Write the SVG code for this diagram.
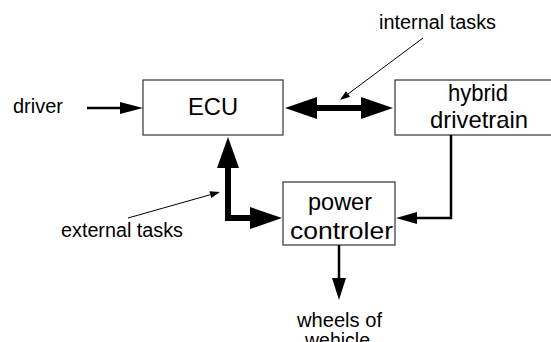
<svg xmlns="http://www.w3.org/2000/svg" width="551" height="342" viewBox="0 0 551 342">
<style>
.box{fill:#fff;stroke:#333;stroke-width:1.2}
.t{font-family:"Liberation Sans",Arial,sans-serif;fill:#000}
.lbl{font-size:19.5px}
.bt{font-size:24px}
.thin{fill:none;stroke:#000;stroke-width:2.5}
.thick{fill:none;stroke:#000;stroke-width:6;stroke-linejoin:miter}
.ptr{fill:none;stroke:#000;stroke-width:1}
.head{fill:#000}
</style>
<rect width="551" height="342" fill="#fff"/>
<g id="ecu">
<rect class="box" x="143" y="80" width="140" height="55"/>
<text class="t bt" x="188" y="115" textLength="50" lengthAdjust="spacingAndGlyphs">ECU</text>
</g>
<g id="hybrid">
<rect class="box" x="395" y="80" width="166" height="55"/>
<text class="t bt" x="448" y="101" textLength="60" lengthAdjust="spacingAndGlyphs">hybrid</text>
<text class="t bt" x="430" y="128" textLength="98" lengthAdjust="spacingAndGlyphs">drivetrain</text>
</g>
<g id="power">
<rect class="box" x="283" y="182" width="112" height="63"/>
<text class="t bt" x="308" y="210" textLength="64" lengthAdjust="spacingAndGlyphs">power</text>
<text class="t bt" x="290" y="239" textLength="103" lengthAdjust="spacingAndGlyphs">controler</text>
</g>
<g id="labels">
<text class="t lbl" x="13" y="113" textLength="50" lengthAdjust="spacingAndGlyphs">driver</text>
<text class="t lbl" x="379" y="29" textLength="117" lengthAdjust="spacingAndGlyphs">internal tasks</text>
<text class="t lbl" x="61" y="237" textLength="122" lengthAdjust="spacingAndGlyphs">external tasks</text>
<text class="t lbl" x="297" y="327" textLength="85" lengthAdjust="spacingAndGlyphs">wheels of</text>
<text class="t lbl" x="305" y="347" textLength="65" lengthAdjust="spacingAndGlyphs">wehicle</text>
</g>
<g id="connectors">
<line class="thin" x1="87" y1="108" x2="122" y2="108"/>
<polygon class="head" points="143,108 120,102 120,114"/>
<line class="thick" x1="315" y1="108" x2="363" y2="108"/>
<polygon class="head" points="285,108 317,97 317,119"/>
<polygon class="head" points="393,108 361,97 361,119"/>
<path class="thick" d="M228,166 V218 H252"/>
<polygon class="head" points="228,137 217,168 239,168"/>
<polygon class="head" points="282,218 250,207 250,229"/>
<path class="thin" d="M451,135 V218 H415"/>
<polygon class="head" points="396,218 417,212 417,224"/>
<line class="thin" x1="339" y1="245" x2="339" y2="280"/>
<polygon class="head" points="339,300 332,278 346,278"/>
<line class="ptr" x1="423" y1="38" x2="348" y2="94"/>
<polygon class="head" points="340,100 350.1,96.8 345.9,91.2"/>
<line class="ptr" x1="128" y1="218" x2="210.4" y2="194.7"/>
<polygon class="head" points="220,192 211.3,198.1 209.4,191.3"/>
</g>
</svg>
